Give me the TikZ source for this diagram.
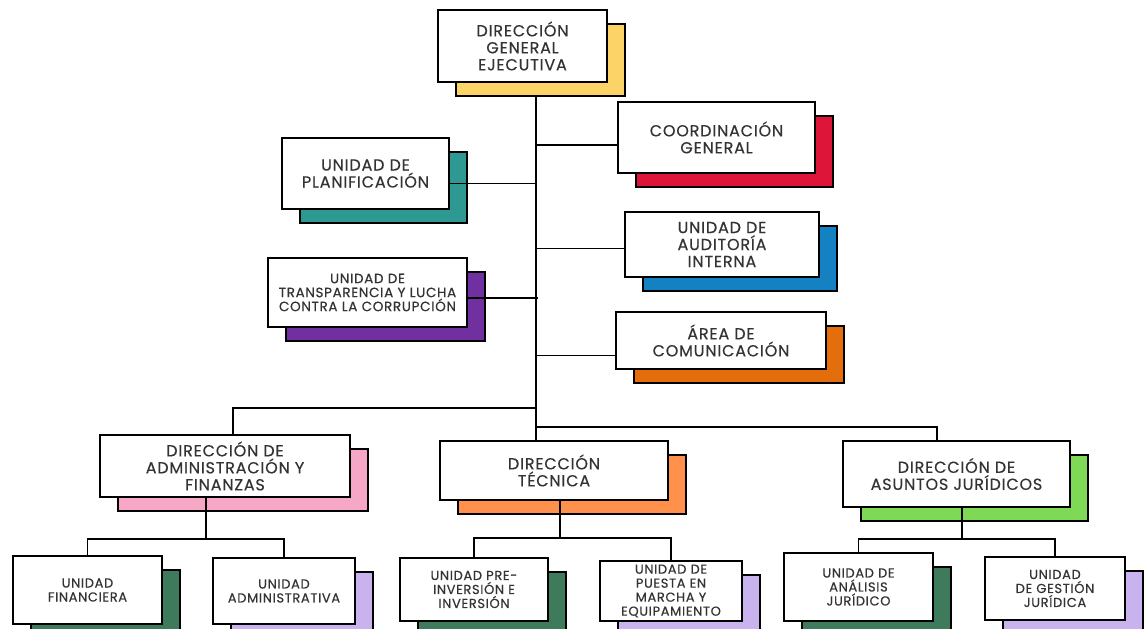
\documentclass[tikz,border=0pt]{standalone}
\usepackage{fontspec}
\setmainfont{Poppins}[LetterSpace=5, FakeBold=0.4]
\usetikzlibrary{shadows}
\definecolor{txtgrey}{HTML}{333333}
\definecolor{cyellow}{HTML}{FCD366}
\definecolor{ccrimson}{HTML}{DC1539}
\definecolor{cteal}{HTML}{2E9892}
\definecolor{cblue}{HTML}{1481C2}
\definecolor{cpurple}{HTML}{7030A0}
\definecolor{corange}{HTML}{E56E0C}
\definecolor{cpink}{HTML}{F5A7C5}
\definecolor{clorange}{HTML}{FF914D}
\definecolor{cgreen}{HTML}{7ED957}
\definecolor{cdgreen}{HTML}{3E7A5C}
\definecolor{clav}{HTML}{C8B3EE}
\tikzset{
  unitbox/.style={draw=black, line width=1.6pt, fill=white, align=center,
    inner sep=2pt, text=txtgrey, font=\fontsize{16}{17}\selectfont},
  smallbox/.style={unitbox, font=\fontsize{13}{14}\selectfont},
  back/.style={general shadow={fill=#1, draw=black, line width=1.6pt,
    shadow xshift=18pt, shadow yshift=-14pt}},
  link/.style={line width=1.4pt},
}
\begin{document}
\begin{tikzpicture}[x=1pt, y=-1pt]
  \useasboundingbox (0,0) rectangle (1144,629);
  \node[unitbox, back=cyellow, minimum width=169, minimum height=72] (dge) at (522.5,46) {DIRECCIÓN\\GENERAL\\EJECUTIVA};
  \node[unitbox, back=ccrimson, minimum width=197, minimum height=71] (coord) at (716.5,137.5) {COORDINACIÓN\\GENERAL};
  \node[unitbox, back=cteal, minimum width=167, minimum height=71] (plan) at (365.5,173.5) {UNIDAD DE\\PLANIFICACIÓN};
  \node[unitbox, back=cblue, minimum width=194, minimum height=65] (audit) at (722,244.5) {UNIDAD DE\\AUDITORÍA\\INTERNA};
  \node[smallbox, back=cpurple, minimum width=199, minimum height=69, font=\fontsize{13.5}{14}\selectfont] (transp) at (367.5,292.5) {UNIDAD DE\\TRANSPARENCIA Y LUCHA\\CONTRA LA CORRUPCIÓN};
  \node[unitbox, back=corange, minimum width=210, minimum height=57] (com) at (721,340.5) {ÁREA DE\\COMUNICACIÓN};
  \node[unitbox, back=cpink, minimum width=250, minimum height=62] (daf) at (225,466) {DIRECCIÓN DE\\ADMINISTRACIÓN Y\\FINANZAS};
  \node[unitbox, back=clorange, minimum width=228, minimum height=59] (dt) at (554,470.5) {DIRECCIÓN\\TÉCNICA};
  \node[unitbox, back=cgreen, minimum width=227, minimum height=66] (daj) at (956.5,474) {DIRECCIÓN DE\\ASUNTOS JURÍDICOS};
  \node[smallbox, back=cdgreen, minimum width=149, minimum height=68] (ufin) at (87.5,590) {UNIDAD\\FINANCIERA};
  \node[smallbox, back=clav, minimum width=142, minimum height=66] (uadm) at (284,591) {UNIDAD\\ADMINISTRATIVA};
  \node[smallbox, back=cdgreen, minimum width=148, minimum height=63] (upre) at (474,589.5) {UNIDAD PRE-\\INVERSIÓN E\\INVERSIÓN};
  \node[smallbox, back=clav, minimum width=142, minimum height=60] (upue) at (671,591) {UNIDAD DE\\PUESTA EN\\MARCHA Y\\EQUIPAMIENTO};
  \node[smallbox, back=cdgreen, minimum width=149, minimum height=68] (uana) at (858.5,587) {UNIDAD DE\\ANÁLISIS\\JURÍDICO};
  \node[smallbox, back=clav, minimum width=140, minimum height=63] (uges) at (1055,588.5) {UNIDAD\\DE GESTIÓN\\JURÍDICA};
  % trunk and its junctions
  \coordinate (t0) at (536,97);
  \coordinate (jcoord) at (536,145);
  \coordinate (jplan) at (536,183.5);
  \coordinate (jaudit) at (536,248.5);
  \coordinate (jtransp) at (538,298);
  \coordinate (jcom) at (536,355.5);
  \coordinate (jdaf) at (536,408);
  \coordinate (jdaj) at (536,427);
  \draw[link] (t0) -- (t0 |- dt.north);
  \draw[link] (jcoord) -- (jcoord -| coord.west);
  \draw[link] (jplan) -- (jplan -| plan.east);
  \draw[link] (jaudit) -- (jaudit -| audit.west);
  \draw[link] (jtransp) -- (jtransp -| transp.east);
  \draw[link] (jcom) -- (jcom -| com.west);
  \draw[link] (jdaf) -| ([xshift=8pt]daf.north);
  \draw[link] (jdaj) -| ([xshift=-19.5pt]daj.north);
  % lower brackets
  \coordinate (bdaf) at (206,539);
  \coordinate (bdt) at (560,538);
  \coordinate (bdaj) at (962,539);
  \draw[link] (daf.south -| bdaf) -- (bdaf);
  \draw[link] (ufin.north) |- (bdaf) -| (uadm.north);
  \draw[link] (dt.south -| bdt) -- (bdt);
  \draw[link] (upre.north) |- (bdt) -| (upue.north);
  \draw[link] (daj.south -| bdaj) -- (bdaj);
  \draw[link] (uana.north) |- (bdaj) -| (uges.north);
\end{tikzpicture}
\end{document}
